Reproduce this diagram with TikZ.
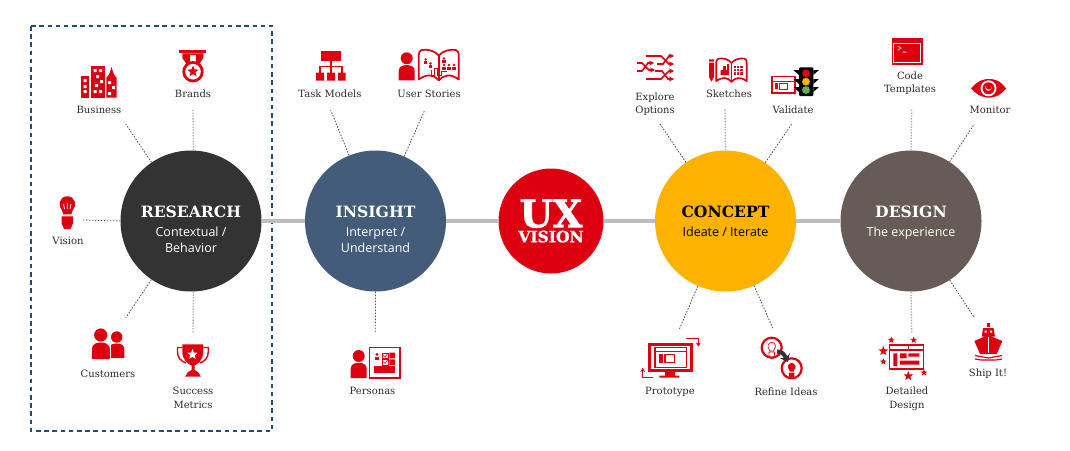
\documentclass[tikz,border=0pt]{standalone}
\usepackage{fontspec}
\setmainfont{DejaVu Serif}
\newfontfamily\stagesub{Open Sans}
\newfontfamily\heavyslab[FakeBold=1.6]{DejaVu Serif Bold}
\usetikzlibrary{arrows.meta,shapes.geometric}
\definecolor{iconred}{HTML}{DC0011}
\definecolor{boxblue}{HTML}{1F4E79}
\definecolor{researchgray}{HTML}{333333}
\definecolor{insightblue}{HTML}{435C7A}
\definecolor{conceptyellow}{HTML}{FDB200}
\definecolor{designbrown}{HTML}{675C55}
\definecolor{spinegray}{HTML}{BDBDBD}
\definecolor{labelgray}{HTML}{2B2B2B}
\definecolor{lampgreen}{HTML}{5BB450}
\newcommand{\stagetitle}[1]{{\fontsize{15.6}{16}\rmfamily\bfseries #1}}
\tikzset{
	stage/.style={circle,minimum size=141pt,inner sep=0pt,align=center,text=white,font=\fontsize{12.5}{15.6}\stagesub},
	tag/.style={inner sep=0pt,align=center,text=labelgray,font=\fontsize{10}{13.4}\selectfont},
	spine/.style={line width=4.5pt,spinegray},
	linkthin/.style={line width=.8pt,black!70,dash pattern=on 1.5pt off 1.5pt},
	linkwide/.style={line width=1.3pt,black!35,dash pattern=on 1.4pt off 1.4pt},
	iconstar/.style={star,star points=5,star point ratio=2.3,inner sep=0pt,fill=iconred},
	person/.pic={
		\fill[iconred] (0,0) circle (6);
		\fill[iconred] (-8,22) -- (-8,13) .. controls (-8,8) and (-4,6.8) .. (0,6.8) .. controls (4,6.8) and (8,8) .. (8,13) -- (8,22) -- cycle;
	},
	book/.pic={
		\draw[iconred,line width=1.7pt,fill=white,line join=round] (0,6) .. controls (-4,1) and (-12,-.5) .. (-17,.5) .. controls (-19,1) and (-20,3) .. (-20,5) -- (-20,30) .. controls (-12,24) and (-5,25) .. (0,31) .. controls (5,25) and (12,24) .. (20,30) -- (20,5) .. controls (20,3) and (19,1) .. (17,.5) .. controls (12,-.5) and (4,1) .. (0,6) -- cycle;
		\draw[iconred,line width=1.7pt] (0,6) -- (0,31);
	},
	bulb/.pic={
		\path[pic actions] (-5.5,5.8) .. controls (-9.5,2) and (-8.5,-8) .. (0,-8) .. controls (8.5,-8) and (9.5,2) .. (5.5,5.8) -- (4,10) -- (-4,10) -- cycle;
		\path[pic actions] (-5.8,12) -- (5.8,12) -- (5.8,19) -- (3.2,24.7) -- (-3.2,24.7) -- (-5.8,19) -- cycle;
	},
	minifig/.pic={
		\fill[iconred] (0,0) circle (1.3);
		\fill[iconred] (-1.7,1.6) rectangle (1.7,4.6);
	}
}
\begin{document}
\begin{tikzpicture}[x=1pt,y=-1pt]
	\useasboundingbox (0,0) rectangle (1070,450);
	\draw[boxblue,line width=2pt,dash pattern=on 4.5pt off 3.7pt] (31,26) rectangle (272,431);

	\node[stage,fill=researchgray] (research) at (191,221) {\mbox{}\\[12pt]\stagetitle{RESEARCH}\\[3.5pt]Contextual /\\Behavior};
	\node[stage,fill=insightblue] (insight) at (375.5,221) {\mbox{}\\[12pt]\stagetitle{INSIGHT}\\[3.5pt]Interpret /\\Understand};
	\node[circle,minimum size=105pt,inner sep=0pt,align=center,text=white,fill=iconred,font=\fontsize{15.5}{13}\heavyslab] (vision) at (551,221) {{\fontsize{38}{32}\selectfont UX}\\[2pt]VISION};
	\node[stage,fill=conceptyellow,text=black] (concept) at (725.5,221) {\stagetitle{CONCEPT}\\[3.5pt]Ideate / Iterate};
	\node[stage,fill=designbrown] (design) at (911,221) {\stagetitle{DESIGN}\\[3.5pt]\smash{The experience}};
	\draw[spine] (research) -- (insight);
	\draw[spine] (insight) -- (vision);
	\draw[spine] (vision) -- (concept);
	\draw[spine] (concept) -- (design);

	\node[tag] (business) at (99,109.5) {Business};
	\node[tag] (brands) at (193,94) {Brands};
	\node[tag] (visiontag) at (68,241) {Vision};
	\node[tag] (customers) at (108,373.5) {Customers};
	\node[tag] (success) at (193,398) {Success\\Metrics};
	\node[tag] (taskmodels) at (330,93.5) {Task Models};
	\node[tag] (userstories) at (429,94) {User Stories};
	\node[tag] (personas) at (372.5,390.5) {Personas};
	\node[tag] (explore) at (655,104) {Explore\\Options};
	\node[tag] (sketches) at (729,94) {Sketches};
	\node[tag] (validate) at (793,109.5) {Validate};
	\node[tag] (prototype) at (670,392) {Prototype};
	\node[tag] (refine) at (786,392) {Refine Ideas};
	\node[tag] (code) at (910,83) {Code\\Templates};
	\node[tag] (monitor) at (990,109.5) {Monitor};
	\node[tag] (detailed) at (907,399) {Detailed\\Design};
	\node[tag] (ship) at (988,374) {Ship It!};

	\coordinate (businessend) at (125.7,124);
	\coordinate (brandsend) at (193,109);
	\coordinate (visionend) at (81.7,220);
	\coordinate (customersend) at (125.7,317.7);
	\coordinate (successend) at (193,333);
	\coordinate (taskend) at (330.7,110);
	\coordinate (storiesend) at (424.3,111);
	\coordinate (personasend) at (375.3,333.3);
	\coordinate (exploreend) at (660,124);
	\coordinate (sketchesend) at (725,109);
	\coordinate (validateend) at (791.7,124);
	\coordinate (prototypeend) at (679.3,329.3);
	\coordinate (refineend) at (773.3,329.3);
	\coordinate (codeend) at (911.7,109);
	\coordinate (monitorend) at (974.3,124);
	\coordinate (detailedend) at (911.7,333);
	\coordinate (shipend) at (974.3,317.7);

	\draw[linkthin] (research) -- (businessend);
	\draw[linkwide] (research.88) -- (brandsend);
	\draw[linkthin] (research.west) -- (visionend);
	\draw[linkthin] (research) -- (customersend);
	\draw[linkwide] (research.-88) -- (successend);
	\draw[linkthin] (insight) -- (taskend);
	\draw[linkthin] (insight) -- (storiesend);
	\draw[linkthin] (insight.south) -- (personasend);
	\draw[linkthin] (concept) -- (exploreend);
	\draw[linkwide] (concept.north) -- (sketchesend);
	\draw[linkthin] (concept) -- (validateend);
	\draw[linkthin] (concept) -- (prototypeend);
	\draw[linkthin] (concept) -- (refineend);
	\draw[linkwide] (design.north) -- (codeend);
	\draw[linkthin] (design) -- (monitorend);
	\draw[linkwide] (design.south) -- (detailedend);
	\draw[linkthin] (design) -- (shipend);

	% business
	\fill[iconred] (81.3,76) rectangle (89.3,97.7);
	\fill[iconred] (91,65.7) rectangle (104.7,97.7);
	\fill[iconred] (106.3,97.7) -- (106.3,78) -- (109,74.5) -- (110,72) -- (111.5,66.7) -- (113,72) -- (114,74.5) -- (116.7,78) -- (116.7,97.7) -- cycle;
	\fill[white] (83.5,79) rectangle +(3,3) (83.5,85) rectangle +(3,3) (83.5,90) rectangle +(3,3) (93.5,69) rectangle +(3,3) (99,69) rectangle +(3,3) (96,75) rectangle +(3,3) (100,80) rectangle +(3,3) (95,84) rectangle +(3,3) (93.5,90) rectangle +(3,3) (99,90) rectangle +(3,3) (108,81) rectangle +(3,3) (112,86) rectangle +(3,3) (108,92) rectangle +(3,3);
	% brands
	\fill[iconred] (179.3,50.3) rectangle (206,53.3);
	\fill[iconred] (182.3,53.3) -- (203.3,53.3) -- (203.3,58) -- (198,66) -- (188,66) -- (182.3,58) -- cycle;
	\fill[white] (190,54.5) rectangle (195.7,62);
	\fill[iconred] (193,71.7) circle (10.7);
	\fill[white] (193,71.7) circle (7.8);
	\node[iconstar,minimum size=12pt] (brandstar) at (193,71.5) {};
	% vision
	\pic[fill=iconred] at (67.3,204.3) {bulb};
	\draw[white,line width=.7pt] (63.5,204) -- (64.5,209) (67.3,203) -- (67.3,209) (71,204) -- (70,209);
	% customers
	\pic[scale=1.1] at (100.7,335) {person};
	\pic[scale=.95] at (116.7,337) {person};
	\draw[white,line width=.8pt] (110.4,342) -- (110.4,360);
	% success metrics
	\fill[iconred] (182.3,344.3) -- (203.3,344.3) -- (203.3,352) .. controls (203,360) and (198,364) .. (194.5,365.5) -- (194.5,370) -- (198,372) -- (201,376.7) -- (185,376.7) -- (188,372) -- (191.5,370) -- (191.5,365.5) .. controls (188,364) and (182.5,360) .. (182.3,352) -- cycle;
	\draw[iconred,line width=1.4pt] (182.3,347.5) -- (177.5,347.5) -- (177.5,352) .. controls (177.5,358) and (181,361) .. (186,363);
	\draw[iconred,line width=1.4pt] (203.3,347.5) -- (208.2,347.5) -- (208.2,352) .. controls (208.2,358) and (205,361) .. (200,363);
	\node[iconstar,fill=white,minimum size=11pt] (trophystar) at (192.5,354.5) {};
	% task models
	\fill[iconred] (321,51) rectangle (341,60.7);
	\fill[iconred] (316,72.7) rectangle (324,80.7) (327,72.7) rectangle (335,80.7) (338,72.7) rectangle (345.7,80.7);
	\draw[iconred,line width=1.3pt] (331,60.7) -- (331,72.7) (320,72.7) -- (320,66.7) -- (342,66.7) -- (342,72.7);
	% user stories
	\pic at (406.7,58.3) {person};
	\pic at (438.8,49.5) {book};
	\pic at (425.7,59.5) {minifig};
	\pic at (430.5,63.5) {minifig};
	\pic at (444,58.5) {minifig};
	\pic at (444,65) {minifig};
	\pic at (449,65) {minifig};
	\pic at (454,65) {minifig};
	\draw[iconred,line width=.8pt] (431,70) -- (431,75) -- (434,75) -- (434,68) -- (437,68) -- (437,75) -- (441,75) -- (441,71) -- (447,71);
	% personas
	\pic at (358.7,356) {person};
	\draw[iconred,line width=1.5pt,fill=white] (369.5,347.5) rectangle (400,378);
	\pic[scale=1.3] at (377,354.5) {minifig};
	\fill[iconred] (373.7,366) rectangle (395,372.7);
	\fill[iconred] (389.3,352.7) rectangle (395,358.3) (389.3,359.3) rectangle (395,365);
	\draw[iconred,line width=.5pt] (382,352.9) rectangle (388,358.1) (382,359.5) rectangle (388,364.8);
	\draw[iconred,line width=.6pt] (383,355) -- (385,357) -- (388,353) (383,361.5) -- (385,363.5) -- (388,359.5);
	% explore options
	\draw[iconred,line width=1.6pt,-{Stealth[length=5pt,width=5pt]}] (646,56) -- (661,56) -- (669,64) -- (674,64);
	\draw[iconred,line width=1.6pt,-{Stealth[length=5pt,width=5pt]}] (657,64) -- (663,64) -- (669,56) -- (674,56);
	\draw[iconred,line width=1.6pt,-{Stealth[length=5pt,width=5pt]}] (637,63) -- (642,63) -- (649,70) -- (655,70);
	\draw[iconred,line width=1.6pt,-{Stealth[length=5pt,width=5pt]}] (637,71) -- (642,71) -- (648,63) -- (654,63);
	\draw[iconred,line width=1.6pt,-{Stealth[length=5pt,width=5pt]}] (646,79) -- (661,79) -- (669,71) -- (674,71);
	\draw[iconred,line width=1.6pt,-{Stealth[length=5pt,width=5pt]}] (655,71) -- (662,71) -- (668,79) -- (674,79);
	% sketches
	\fill[iconred] (709,59.3) rectangle (714,61.5) (709,62.5) rectangle (714,77) (709,77) -- (714,77) -- (711.5,81.7) -- cycle;
	\pic[scale=.76] at (731.5,58.3) {book};
	\fill[iconred] (720.5,70) rectangle (729,75) (723,66) rectangle (726,70) (727,64) rectangle (729,70);
	\fill[iconred] (734,66) rectangle (743,75);
	\fill[white] (736,64) rectangle +(1,13) (739,64) rectangle +(1,13) (733,68) rectangle +(11,1) (733,71) rectangle +(11,1);
	% validate
	\draw[iconred,line width=1.2pt] (772,76.5) rectangle (795,93);
	\draw[iconred,line width=1pt] (772,81) -- (795,81);
	\draw[iconred,line width=1pt] (779.5,83) rectangle (787.5,89);
	\fill[iconred] (775,83) rectangle (777.7,89);
	\fill[black] (793.3,70) -- (799,70) -- (799,75) -- cycle (793.3,79) -- (799,79) -- (799,84) -- cycle (793.3,87) -- (799,87) -- (799,92) -- cycle;
	\fill[black] (819,70) -- (813.3,70) -- (813.3,75) -- cycle (819,79) -- (813.3,79) -- (813.3,84) -- cycle (819,87) -- (813.3,87) -- (813.3,92) -- cycle;
	\fill[black,rounded corners=1pt] (799,67.3) rectangle (813.3,96);
	\fill[iconred] (806,73.3) circle (3.9);
	\fill[conceptyellow] (806,81.7) circle (3.9);
	\fill[lampgreen] (806,90) circle (3.9);
	% prototype
	\fill[iconred] (648.3,343.3) rectangle (693.3,371.7);
	\fill[iconred] (665,371.7) rectangle (675,376) (659.3,375.7) rectangle (679.3,377.5);
	\fill[white] (651,346) rectangle (690,368.5);
	\draw[iconred,line width=1.3pt] (655,347.5) rectangle (686.5,367.5);
	\draw[iconred,line width=1pt] (655,351) -- (686.5,351);
	\fill[iconred] (659,354) rectangle (662.5,363);
	\draw[iconred,line width=1.2pt] (665,354.5) rectangle (674.5,362.5);
	\draw[iconred,line width=1.5pt,-{Stealth[length=4pt,width=5pt]}] (686,338.3) -- (698.3,338.3) -- (698.3,346.5);
	\draw[iconred,line width=1.5pt,-{Stealth[length=4pt,width=5pt]}] (653.3,377.3) -- (642.7,377.3) -- (642.7,368);
	% refine ideas
	\draw[iconred,line width=2.2pt] (771.7,347.7) circle (10);
	\draw[iconred,line width=2.2pt] (791.7,368.3) circle (10);
	\pic[scale=.48,draw=iconred,line width=.7pt] at (771.7,346.2) {bulb};
	\pic[scale=.48,fill=iconred] at (791.7,366.8) {bulb};
	\draw[researchgray,line width=4pt,-{Stealth[length=7pt,width=11pt]}] (777,351.5) .. controls (782,351.5) and (784,354) .. (788,362);
	% code templates
	\fill[iconred] (891.7,38.3) rectangle (922.7,65);
	\draw[white,line width=.8pt] (893.5,43) rectangle (920.8,62.8);
	\node[inner sep=0pt,text=white,font=\fontsize{9.5}{10}\ttfamily\bfseries] (prompt) at (902,49.5) {>\_};
	% monitor
	\fill[iconred] (971,88.5) .. controls (978,80) and (984,79) .. (989,79) .. controls (994,79) and (1000,80) .. (1006,88.5) .. controls (1000,96) and (994,97.7) .. (989,97.7) .. controls (984,97.7) and (978,96) .. (971,88.5) -- cycle;
	\fill[white] (988.5,88.3) circle (8);
	\fill[iconred] (988.5,88.3) circle (6);
	\fill[white] (988.5,87.5) circle (3.3);
	\fill[iconred] (988.8,86.5) circle (3);
	% detailed design
	\draw[iconred,line width=1.5pt] (889.5,344.8) rectangle (923.7,369);
	\draw[iconred,line width=1.1pt] (889.5,350) -- (923.7,350) (908.3,345) -- (908.3,350);
	\fill[iconred] (893.3,353.3) rectangle (897.3,366) (900,353.3) rectangle (906.7,358.3) (908.3,353.3) rectangle (919.3,356.7) (900,360.7) rectangle (919.3,364.7);
	\node[iconstar,minimum size=7pt] (stara) at (891.3,340) {};
	\node[iconstar,minimum size=7pt] (starb) at (913.7,340) {};
	\node[iconstar,minimum size=10pt] (starc) at (883.3,351) {};
	\node[iconstar,minimum size=7pt] (stard) at (883.3,361.7) {};
	\node[iconstar,minimum size=10pt] (stare) at (908.3,376) {};
	\node[iconstar,minimum size=7pt] (starf) at (924,372.7) {};
	% ship it
	\fill[iconred] (986.5,323.3) rectangle (990,327);
	\fill[iconred] (981.7,336.7) -- (983,328) -- (993.5,328) -- (995,336.7) -- cycle;
	\fill[iconred] (974.3,341) -- (988,335) -- (1002.3,341) -- (996.7,354) -- (980,354) -- cycle;
	\draw[white,line width=.8pt] (988,337) -- (988,353);
	\fill[white] (984.5,330.5) rectangle +(2,2) (990,330.5) rectangle +(2,2);
	\draw[iconred,line width=1.2pt] (975,355.5) .. controls (982,357) and (984,357) .. (988.5,358) .. controls (993,357) and (995,357) .. (1002,355.5);
	\draw[iconred,line width=1.2pt] (975,359) .. controls (982,360.5) and (984,360) .. (988.5,360) .. controls (993,360) and (995,360.5) .. (1002,359);
\end{tikzpicture}
\end{document}
